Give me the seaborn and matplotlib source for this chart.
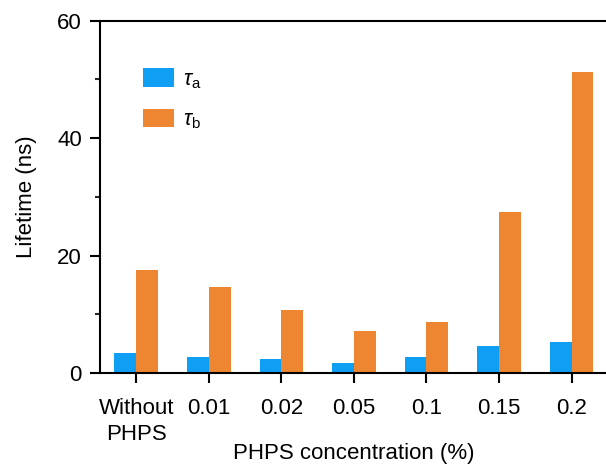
import matplotlib
matplotlib.use("Agg")
import matplotlib.pyplot as plt
import seaborn as sns
import pandas as pd
from matplotlib.ticker import MultipleLocator

# Fluorescence lifetime components vs. PHPS concentration
categories = ["Without\nPHPS", "0.01", "0.02", "0.05", "0.1", "0.15", "0.2"]
tau_a = [3.4, 2.7, 2.4, 1.8, 2.7, 4.6, 5.3]
tau_b = [17.6, 14.6, 10.8, 7.1, 8.7, 27.4, 51.2]
series_labels = [r"$\tau_\mathrm{a}$", r"$\tau_\mathrm{b}$"]
colors = ["#0E9FF5", "#EE8530"]

df = pd.DataFrame({
    "conc": categories * 2,
    "lifetime": tau_a + tau_b,
    "component": [series_labels[0]] * len(categories) + [series_labels[1]] * len(categories),
})

sns.set_theme(style="ticks")
plt.rcParams["font.family"] = ["Liberation Sans", "DejaVu Sans"]
plt.rcParams["mathtext.fontset"] = "custom"
plt.rcParams["mathtext.rm"] = "Liberation Sans"
plt.rcParams["mathtext.it"] = "Liberation Sans:italic"
plt.rcParams["text.color"] = "black"
plt.rcParams["axes.labelcolor"] = "black"

fig = plt.figure(figsize=(6.06, 4.70), dpi=100)
ax = fig.add_axes([0.165, 0.206, 0.838, 0.750])

sns.barplot(data=df, x="conc", y="lifetime", hue="component",
            palette=colors, width=0.6, saturation=1, ax=ax,
            order=categories, hue_order=series_labels, linewidth=0)

ax.set_xlim(-0.5, 6.5)
ax.set_ylim(0, 60)
ax.yaxis.set_major_locator(MultipleLocator(20))
ax.yaxis.set_minor_locator(MultipleLocator(10))

for side in ["left", "bottom", "top", "right"]:
    ax.spines[side].set_linewidth(1.5)
    ax.spines[side].set_color("black")

ax.tick_params(axis="both", which="major", direction="out", length=7,
               width=1.5, labelsize=16, colors="black", pad=6)
ax.tick_params(axis="y", which="minor", direction="out", length=3.5, width=1.5)
ax.tick_params(axis="x", pad=11)
ax.tick_params(top=False, right=False)
for lbl in ax.get_xticklabels():
    lbl.set_linespacing(1.3)

ax.set_xlabel("PHPS concentration (%)", fontsize=16, color="black")
ax.set_ylabel("Lifetime (ns)", fontsize=16, color="black")
ax.xaxis.set_label_coords(0.5, -0.197)
ax.yaxis.set_label_coords(-0.124, 0.5)

leg = ax.legend(loc="upper left", bbox_to_anchor=(0.046, 0.92), frameon=False,
                fontsize=15.5, handlelength=1.45, handleheight=0.95,
                labelspacing=0.85, handletextpad=0.4)
for t in leg.get_texts():
    t.set_color("black")

fig.savefig("out.png", dpi=100)
